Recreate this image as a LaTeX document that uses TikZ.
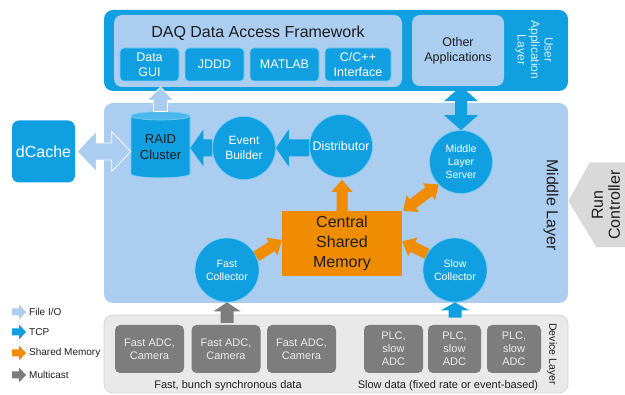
\documentclass[tikz,border=0pt]{standalone}
\usepackage{fontspec}
\setmainfont{Liberation Sans}
\usetikzlibrary{calc,shapes.geometric}
\definecolor{dblue}{RGB}{16,160,226}
\definecolor{lblue}{RGB}{170,205,240}
\definecolor{orng}{RGB}{240,140,0}
\definecolor{dgray}{RGB}{125,125,125}
\definecolor{lgray}{RGB}{233,233,233}
\definecolor{rgray}{RGB}{217,217,217}
\definecolor{txt}{RGB}{30,30,30}
% single fat arrow: [style]{from}{to}{half shaft}{half head}{head length}
\newcommand\fatarrow[6][]{%
  \coordinate (fa) at #2; \coordinate (fb) at #3;
  \coordinate (fh) at ($(fb)!#6pt!(fa)$);
  \filldraw[#1] ($(fa)!#4pt!90:(fb)$) -- ($(fh)!#4pt!-90:(fa)$) -- ($(fh)!#5pt!-90:(fa)$) -- (fb)
    -- ($(fh)!#5pt!90:(fa)$) -- ($(fh)!#4pt!90:(fa)$) -- ($(fa)!#4pt!-90:(fb)$) -- cycle;
}
% double fat arrow
\newcommand\fatdarrow[6][]{%
  \coordinate (fa) at #2; \coordinate (fb) at #3;
  \coordinate (fh) at ($(fb)!#6pt!(fa)$);
  \coordinate (fg) at ($(fa)!#6pt!(fb)$);
  \filldraw[#1] (fa) -- ($(fg)!#5pt!90:(fb)$) -- ($(fg)!#4pt!90:(fb)$) -- ($(fh)!#4pt!-90:(fa)$)
    -- ($(fh)!#5pt!-90:(fa)$) -- (fb) -- ($(fh)!#5pt!90:(fa)$) -- ($(fh)!#4pt!90:(fa)$)
    -- ($(fg)!#4pt!-90:(fb)$) -- ($(fg)!#5pt!-90:(fb)$) -- cycle;
}
\tikzset{
  every node/.style={inner sep=0pt, align=center, text=txt},
  lay/.style={rounded corners=9pt, minimum width=464pt},
  bbox/.style={fill=dblue, draw=white!45!dblue, line width=0.6pt, rounded corners=4pt, text=white, font=\fontsize{12.5}{15}\selectfont},
  circ/.style={circle, fill=dblue, draw=white!45!dblue, line width=0.6pt, minimum size=63pt, text=white},
  gbox/.style={fill=dgray, rounded corners=5pt, text=white!92!black, font=\fontsize{11}{13}\selectfont, minimum height=48pt},
  fio/.style={fill=lblue, draw=white, line width=0.7pt},
  tcp/.style={fill=dblue, draw=none},
  shm/.style={fill=orng, draw=none},
  mcast/.style={fill=dgray, draw=none},
  lgd/.style={anchor=west, font=\fontsize{10}{12}\selectfont},
}
\begin{document}
\begin{tikzpicture}[x=1pt,y=-1pt]
\useasboundingbox (0,0) rectangle (625,395);
% ---------- user application layer
\node[lay, fill=dblue, minimum height=81pt] (ual) at (336,50.5) {};
\node[fill=lblue, rounded corners=8pt, minimum width=288pt, minimum height=72pt] (daf) at (258,51) {};
\node[font=\fontsize{16}{19}\selectfont] (daft) at (258,33) {DAQ Data Access Framework};
\node[bbox, minimum width=59pt, minimum height=33pt] (dgui) at (149.5,64.5) {Data\\GUI};
\node[bbox, minimum width=59pt, minimum height=33pt] (jddd) at (214.5,64.5) {JDDD};
\node[bbox, minimum width=69pt, minimum height=33pt] (matlab) at (284.5,64.5) {MATLAB};
\node[bbox, minimum width=66pt, minimum height=33pt] (cpp) at (358,64.5) {C/C++\\Interface};
\node[fill=lblue, rounded corners=8pt, minimum width=92pt, minimum height=71pt, font=\fontsize{12.5}{15}\selectfont] (other) at (458,50.5) {Other\\Applications};
\node[rotate=-90, text=white!85!dblue, font=\fontsize{12}{13.5}\selectfont] (ualt) at (534,50) {User\\Application\\Layer};
% ---------- middle layer
\node[lay, fill=lblue, minimum height=200pt] (ml) at (336,203) {};
\node[rotate=-90, font=\fontsize{16}{19}\selectfont] (mlt) at (551,205) {Middle Layer};
% ---------- device layer
\node[lay, fill=lgray, draw=gray!35, line width=0.6pt, minimum height=78pt] (dl) at (336,354) {};
\node[rotate=-90, font=\fontsize{10.5}{12}\selectfont] (dlt) at (552,354) {Device Layer};
% ---------- run controller
\fill[rgray, draw=gray!40, line width=0.5pt] (569,201) -- (590,163) -- (626,163) -- (626,247) -- (597,247) -- cycle;
\node[rotate=90, font=\fontsize{16}{17}\selectfont] (rc) at (606,205) {Run\\Controller};
% ---------- dCache and middle layer nodes
\node[fill=dblue, rounded corners=7pt, minimum width=63pt, minimum height=62pt, text=white, font=\fontsize{16}{19}\selectfont] (dcache) at (43.5,151.5) {dCache};
\node[cylinder, shape border rotate=90, aspect=0.2, minimum width=59pt, minimum height=66pt,
  cylinder uses custom fill, cylinder body fill=dblue, cylinder end fill=white!25!dblue,
  draw=white!45!dblue, line width=0.6pt, font=\fontsize{13}{16}\selectfont] (raid) at (160.5,147) {RAID\\Cluster};
\node[circ, font=\fontsize{12}{15}\selectfont] (evb) at (244,148) {Event\\Builder};
\node[circ, font=\fontsize{12.5}{15}\selectfont] (dist) at (341,146) {Distributor};
\node[circ, font=\fontsize{10.5}{13}\selectfont] (mls) at (461,162) {Middle\\Layer\\Server};
\node[fill=orng, minimum width=120pt, minimum height=65pt, font=\fontsize{16}{20}\selectfont] (csm) at (342,243.5) {Central\\Shared\\Memory};
\node[circ, minimum size=64pt, font=\fontsize{10.6}{13}\selectfont] (fc) at (227,270) {Fast\\Collector};
\node[circ, minimum size=64pt, font=\fontsize{10.6}{13}\selectfont] (sc) at (455,270) {Slow\\Collector};
% ---------- device boxes
\node[gbox, minimum width=69pt] (fadc1) at (149.5,349) {Fast ADC,\\Camera};
\node[gbox, minimum width=69pt] (fadc2) at (226,349) {Fast ADC,\\Camera};
\node[gbox, minimum width=69pt] (fadc3) at (301.5,349) {Fast ADC,\\Camera};
\node[gbox, minimum width=59pt] (plc1) at (393.5,349) {PLC,\\slow\\ADC};
\node[gbox, minimum width=53pt] (plc2) at (454.5,349) {PLC,\\slow\\ADC};
\node[gbox, minimum width=54pt] (plc3) at (514,349) {PLC,\\slow\\ADC};
\node[font=\fontsize{11}{13}\selectfont] (fastt) at (228,386) {Fast, bunch synchronous data};
\node[font=\fontsize{11}{13}\selectfont] (slowt) at (448,386) {Slow data (fixed rate or event-based)};
% ---------- arrows
\fatdarrow[fio]{($(dcache.east)+(2,0)$)}{(raid.west |- dcache.east)}{8.5}{20}{19}
\fatarrow[fio]{(raid.north)}{(raid.north |- daf.south)}{7}{13}{13}
\fatarrow[tcp]{(evb.west)}{(raid.east |- evb.west)}{8.5}{18.5}{13}
\fatarrow[tcp]{(dist.west |- evb.east)}{(evb.east)}{8.5}{18.5}{13}
\fatdarrow[tcp]{(mls.north |- other.south)}{(mls.north)}{6}{17}{15}
\fatarrow[shm]{(csm.north)}{($(csm.north |- dist.south)+(0,2)$)}{5.5}{10.5}{12}
\fatdarrow[shm]{($(csm.north east)+(1,0)$)}{(mls.225)}{5.5}{10.5}{12}
\fatarrow[shm]{(fc.25)}{($(csm.west)+(0,-3.5)$)}{5.5}{10.5}{12}
\fatarrow[shm]{(sc.150)}{($(csm.east)+(0,-2)$)}{5.5}{10.5}{12}
\fatarrow[mcast]{($(fadc2.north -| fc.south)+(0,-2)$)}{(fc.south)}{6.5}{13.5}{9}
\fatarrow[tcp]{($(sc.south |- dl.north)+(0,3)$)}{(sc.south)}{6.5}{14}{8}
% ---------- legend
\coordinate (l1s) at (12,312); \coordinate (l1e) at (26,312);
\coordinate (l2s) at (12,332); \coordinate (l2e) at (26,332);
\coordinate (l3s) at (12,353); \coordinate (l3e) at (26,353);
\coordinate (l4s) at (12,375); \coordinate (l4e) at (26,375);
\fatarrow[fio, draw=none]{(l1s)}{(l1e)}{3.5}{7.5}{7}
\fatarrow[tcp]{(l2s)}{(l2e)}{3.5}{7.5}{7}
\fatarrow[shm]{(l3s)}{(l3e)}{3.5}{7.5}{7}
\fatarrow[mcast]{(l4s)}{(l4e)}{3.5}{7.5}{7}
\node[lgd] (lg1) at (29,312) {File I/O};
\node[lgd] (lg2) at (29,332) {TCP};
\node[lgd] (lg3) at (29,353) {Shared Memory};
\node[lgd] (lg4) at (29,375) {Multicast};
\end{tikzpicture}
\end{document}
